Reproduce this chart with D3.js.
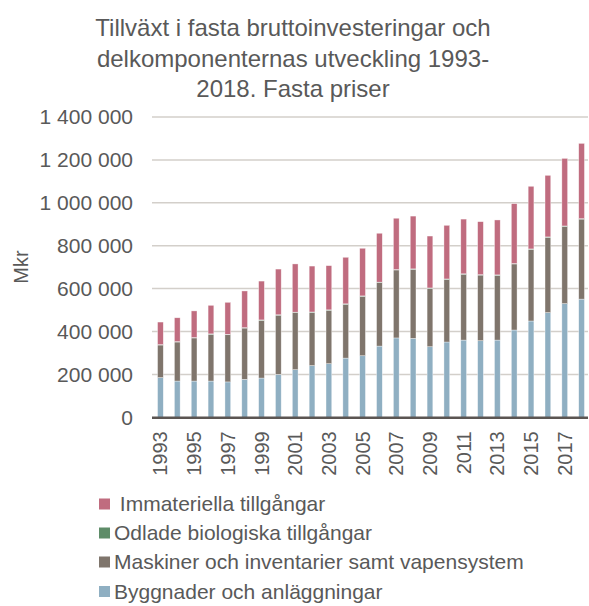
<!DOCTYPE html>
<html>
<head>
<meta charset="utf-8">
<script src="https://cdn.jsdelivr.net/npm/d3@7"></script>
<style>
  body { margin: 0; background: #fff; }
  svg { display: block; font-family: "Liberation Sans", Arial, sans-serif; }
</style>
</head>
<body>
<div id="chart"></div>
<script>
// chart size and plot area
const width = 589;
const height = 606;
const margin = {left: 152, right: -1, top: 117, bottom: 188};

// data (Mkr)
const years = d3.range(1993, 2019);
const byggnader = [185000, 169000, 169000, 169000, 165000, 177000, 183000, 200000, 222000, 241000,
  250000, 276000, 287000, 332000, 370000, 368000, 329000, 351000, 360000, 357000,
  360000, 407000, 449000, 488000, 530000, 551000];
const maskiner = [152000, 182000, 201000, 218000, 220000, 239000, 269000, 276000, 266000, 248000,
  249000, 251000, 277000, 296000, 317000, 322000, 272000, 292000, 307000, 306000,
  302000, 308000, 334000, 351000, 360000, 373000];
const odlade = [2000, 2000, 2000, 2000, 2000, 2000, 2000, 2000, 2000, 2000,
  2000, 2000, 2000, 2000, 2000, 2000, 2000, 2000, 2000, 2000,
  2000, 2000, 2000, 2000, 2000, 2000];
const immateriella = [105000, 111000, 124000, 133000, 149000, 171000, 181000, 213000, 225000, 214000,
  206000, 217000, 222000, 228000, 239000, 246000, 242000, 250000, 255000, 247000,
  256000, 279000, 292000, 287000, 315000, 351000];
const yTicks = [0, 200000, 400000, 600000, 800000, 1000000, 1200000, 1400000];

const seriesNames = ["Byggnader och anläggningar", "Maskiner och inventarier samt vapensystem",
  "Odlade biologiska tillgångar", " Immateriella tillgångar"];
const colors = ["#8fafc2", "#7f756c", "#5e8c68", "#c06c7f"];
const textColor = "#595959";

// table for d3.stack
const table = years.map((y, i) => ({
  year: y, s0: byggnader[i], s1: maskiner[i], s2: odlade[i], s3: immateriella[i]
}));
const keys = ["s0", "s1", "s2", "s3"];
const stacked = d3.stack().keys(keys)(table);

const svg = d3.select("#chart")
  .append("svg")
  .attr("width", width)
  .attr("height", height);

// scales
const xScale = d3.scaleBand()
  .domain(years)
  .range([margin.left, width - margin.right])
  .paddingInner(0.66)
  .paddingOuter(0.33);

const yScale = d3.scaleLinear()
  .domain([0, 1400000])
  .range([height - margin.bottom - 0.7, margin.top]);

// title
const title = ["Tillväxt i fasta bruttoinvesteringar och",
  "delkomponenternas utveckling 1993-", "2018. Fasta priser"];
svg.append("g")
  .selectAll("text")
  .data(title)
  .enter()
  .append("text")
  .attr("x", 293)
  .attr("y", (d, i) => 36 + i * 30.5)
  .attr("text-anchor", "middle")
  .attr("font-size", "24px")
  .attr("fill", textColor)
  .text(d => d);

// gridlines
svg.append("g")
  .selectAll("line")
  .data(yTicks.slice(1))
  .enter()
  .append("line")
  .attr("x1", margin.left)
  .attr("x2", 588)
  .attr("y1", d => yScale(d))
  .attr("y2", d => yScale(d))
  .attr("stroke", "#d3cfca")
  .attr("stroke-width", 1.5);

// y axis labels
const fmt = v => d3.format(",")(v).replace(/,/g, " ");
svg.append("g")
  .attr("transform", `translate(${margin.left}, 0)`)
  .call(d3.axisLeft(yScale).tickValues(yTicks).tickFormat(fmt).tickSize(0).tickPadding(19))
  .call(g => g.select(".domain").remove())
  .call(g => g.selectAll("text").attr("fill", textColor).attr("font-size", "21px")
    .attr("font-family", "Liberation Sans, Arial, sans-serif"));

// y axis title
svg.append("text")
  .attr("transform", "translate(28, 267) rotate(-90)")
  .attr("text-anchor", "middle")
  .attr("font-size", "20px")
  .attr("fill", textColor)
  .text("Mkr");

// bars
svg.append("g")
  .selectAll("g")
  .data(stacked)
  .enter()
  .append("g")
  .attr("fill", (d, i) => colors[i])
  .selectAll("rect")
  .data(d => d)
  .enter()
  .append("rect")
  .attr("x", d => xScale(d.data.year))
  .attr("y", d => yScale(d[1]))
  .attr("height", d => yScale(d[0]) - yScale(d[1]))
  .attr("width", xScale.bandwidth())
  .attr("stroke", "#ffffff")
  .attr("stroke-opacity", 0.6)
  .attr("stroke-width", 0.6);

// x axis
svg.append("g")
  .attr("transform", `translate(0, ${yScale(0)})`)
  .call(d3.axisBottom(xScale).tickValues(years.filter(y => y % 2 === 1)).tickSize(0).tickPadding(0))
  .call(g => g.select(".domain").remove())
  .call(g => g.selectAll("text")
    .attr("fill", textColor)
    .attr("font-size", "20px")
    .attr("font-family", "Liberation Sans, Arial, sans-serif")
    .attr("text-anchor", "end")
    .attr("transform", "rotate(-90)")
    .attr("x", -14)
    .attr("y", 0)
    .attr("dy", "0.35em"));

svg.append("line")
  .attr("x1", margin.left)
  .attr("x2", 588)
  .attr("y1", yScale(0) + 0.5)
  .attr("y2", yScale(0) + 0.5)
  .attr("stroke", "#5b5552")
  .attr("stroke-width", 2.5);

// legend, top entry first
const legendRows = [3, 2, 1, 0];
const legendY = [504, 533, 562, 591.5];
const legend = svg.append("g")
  .selectAll("g")
  .data(legendRows)
  .enter()
  .append("g")
  .attr("transform", (d, i) => `translate(99, ${legendY[i]})`);

legend.append("rect")
  .attr("x", 0)
  .attr("y", -5.5)
  .attr("width", 11)
  .attr("height", 11)
  .attr("fill", d => colors[d]);

legend.append("text")
  .attr("x", 15)
  .attr("y", 0)
  .attr("dy", "0.35em")
  .attr("font-size", "21px")
  .attr("fill", textColor)
  .attr("xml:space", "preserve")
  .style("white-space", "pre")
  .text(d => seriesNames[d]);
</script>
</body>
</html>
